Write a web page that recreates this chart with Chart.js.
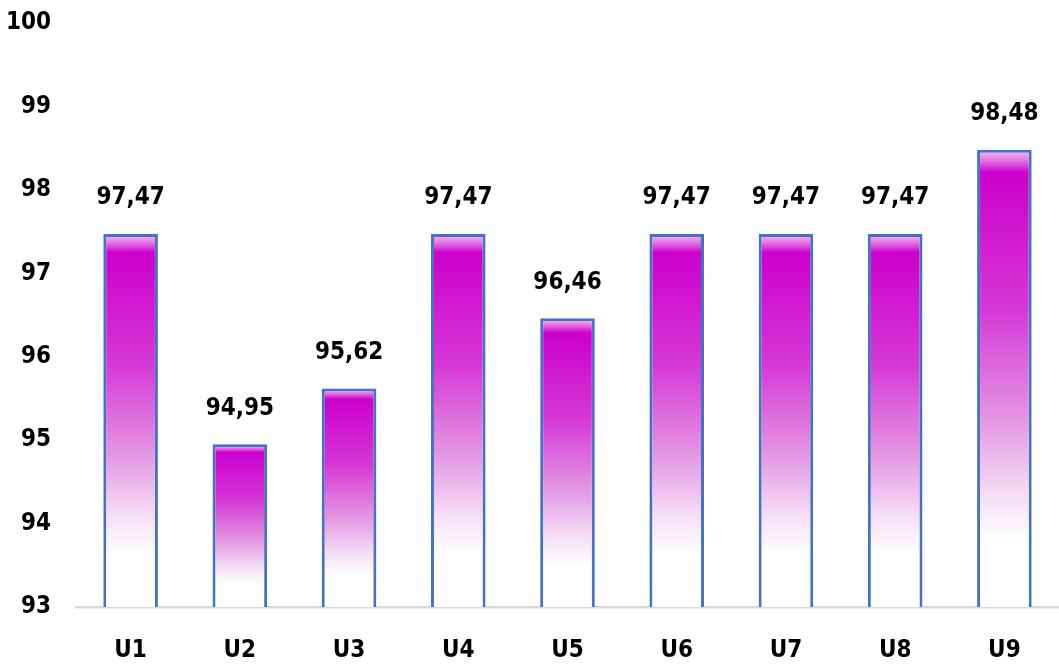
<!DOCTYPE html>
<html>
<head>
<meta charset="utf-8">
<script src="https://cdn.jsdelivr.net/npm/chart.js@4.4.0/dist/chart.umd.min.js"></script>
<style>
  html, body { margin: 0; padding: 0; background: #fff; }
  #wrap { width: 1059px; height: 669px; }
</style>
</head>
<body>
<div id="wrap"><canvas id="chart"></canvas></div>
<script>
const categories = ['U1', 'U2', 'U3', 'U4', 'U5', 'U6', 'U7', 'U8', 'U9'];
const values = [97.47, 94.95, 95.62, 97.47, 96.46, 97.47, 97.47, 97.47, 98.48];
const yMin = 93;
const yMax = 100;

const FONT = "'DejaVu Sans Condensed', 'Liberation Sans Narrow', 'Liberation Sans', Arial, sans-serif";

function barFill(ctx) {
  const chart = ctx.chart;
  if (!chart.chartArea || ctx.type !== 'data') return '#cc00cc';
  const y = chart.scales.y;
  const top = y.getPixelForValue(ctx.raw);
  const bottom = y.getPixelForValue(yMin);
  const g = chart.ctx.createLinearGradient(0, top, 0, bottom);
  g.addColorStop(0, '#f2c0f2');
  g.addColorStop(0.025, '#e070e0');
  g.addColorStop(0.05, '#cc00cc');
  g.addColorStop(0.35, '#d638d6');
  g.addColorStop(0.6, '#e49ae4');
  g.addColorStop(0.76, '#f6e0f6');
  g.addColorStop(0.86, '#ffffff');
  g.addColorStop(1, '#ffffff');
  return g;
}

const valueLabels = {
  id: 'valueLabels',
  afterDatasetsDraw(chart) {
    const c = chart.ctx;
    const meta = chart.getDatasetMeta(0);
    c.save();
    c.font = 'bold 24px ' + FONT;
    c.fillStyle = '#000';
    c.textAlign = 'center';
    c.textBaseline = 'middle';
    meta.data.forEach((bar, i) => {
      c.fillText(values[i].toFixed(2).replace('.', ','), bar.x, bar.y - 36);
    });
    c.restore();
  }
};

new Chart(document.getElementById('chart'), {
  type: 'bar',
  data: {
    labels: categories,
    datasets: [{
      data: values,
      backgroundColor: barFill,
      borderColor: '#4472c4',
      borderWidth: 3,
      borderSkipped: 'bottom',
      barPercentage: 0.5,
      categoryPercentage: 1,
    }],
  },
  options: {
    responsive: true,
    maintainAspectRatio: false,
    animation: false,
    layout: { padding: { top: 23, right: 0, left: 0, bottom: 0 } },
    plugins: { legend: { display: false }, tooltip: { enabled: false } },
    scales: {
      x: {
        grid: { display: false, drawTicks: false },
        border: { color: '#d9d9d9', width: 2.5 },
        ticks: { color: '#000', font: { family: FONT, size: 24, weight: 'bold' }, padding: 29 },
        afterFit(scale) { scale.height = 62; scale.paddingLeft = 0; scale.paddingRight = 0; },
      },
      y: {
        min: yMin,
        max: yMax,
        grid: { display: false, drawTicks: false },
        border: { display: false },
        ticks: { stepSize: 1, color: '#000', font: { family: FONT, size: 24, weight: 'bold' }, padding: 25 },
        afterFit(scale) { scale.width = 76; scale.paddingTop = 0; scale.paddingBottom = 0; },
      },
    },
  },
  plugins: [valueLabels],
});
</script>
</body>
</html>
